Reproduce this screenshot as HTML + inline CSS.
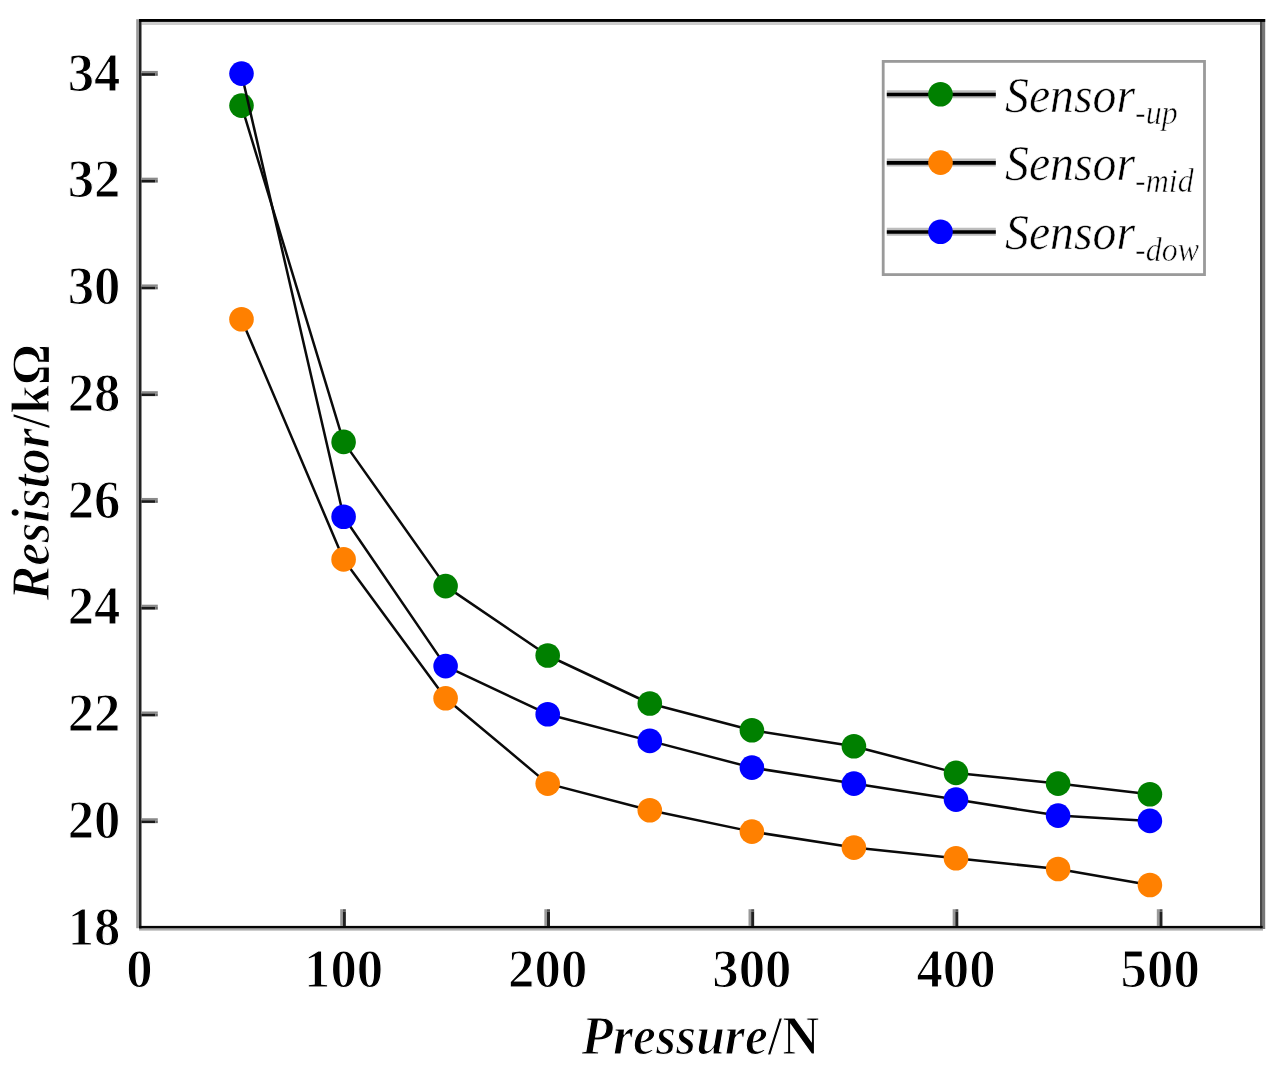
<!DOCTYPE html>
<html lang="en"><head><meta charset="utf-8"><title>Resistor vs Pressure</title>
<style>
html,body{margin:0;padding:0;background:#fff;}
body{width:1282px;height:1070px;overflow:hidden;}
svg{display:block;filter:blur(0.65px);}
text{font-family:"Liberation Serif","Times New Roman",serif;fill:#000;}
.tk{font-weight:bold;font-size:52.8px;stroke:#fff;stroke-width:1.1px;}
.ttl{font-weight:bold;font-size:51.6px;stroke:#fff;stroke-width:1.1px;}
.lg{font-style:italic;font-size:47.8px;stroke:#fff;stroke-width:0.55px;}
.sub{font-style:italic;font-size:32px;}
</style></head><body>
<svg width="1282" height="1070" viewBox="0 0 1282 1070">
<rect x="0" y="0" width="1282" height="1070" fill="#fff"/>
<polyline points="241.5,105.6 343.6,441.9 445.6,586.1 547.7,655.5 649.8,703.5 751.9,730.2 853.9,746.2 956.0,772.9 1058.1,783.6 1149.9,794.2" fill="none" stroke="#0a0a0a" stroke-width="2.5" stroke-linejoin="round"/>
<g fill="#008000">
<circle cx="241.5" cy="105.6" r="12.3"/>
<circle cx="343.6" cy="441.9" r="12.3"/>
<circle cx="445.6" cy="586.1" r="12.3"/>
<circle cx="547.7" cy="655.5" r="12.3"/>
<circle cx="649.8" cy="703.5" r="12.3"/>
<circle cx="751.9" cy="730.2" r="12.3"/>
<circle cx="853.9" cy="746.2" r="12.3"/>
<circle cx="956.0" cy="772.9" r="12.3"/>
<circle cx="1058.1" cy="783.6" r="12.3"/>
<circle cx="1149.9" cy="794.2" r="12.3"/>
</g>
<polyline points="241.5,319.2 343.6,559.4 445.6,698.2 547.7,783.6 649.8,810.3 751.9,831.6 853.9,847.6 956.0,858.3 1058.1,869.0 1149.9,885.0" fill="none" stroke="#0a0a0a" stroke-width="2.5" stroke-linejoin="round"/>
<g fill="#ff8000">
<circle cx="241.5" cy="319.2" r="12.3"/>
<circle cx="343.6" cy="559.4" r="12.3"/>
<circle cx="445.6" cy="698.2" r="12.3"/>
<circle cx="547.7" cy="783.6" r="12.3"/>
<circle cx="649.8" cy="810.3" r="12.3"/>
<circle cx="751.9" cy="831.6" r="12.3"/>
<circle cx="853.9" cy="847.6" r="12.3"/>
<circle cx="956.0" cy="858.3" r="12.3"/>
<circle cx="1058.1" cy="869.0" r="12.3"/>
<circle cx="1149.9" cy="885.0" r="12.3"/>
</g>
<polyline points="241.5,73.6 343.6,516.7 445.6,666.1 547.7,714.2 649.8,740.9 751.9,767.6 853.9,783.6 956.0,799.6 1058.1,815.6 1149.9,820.9" fill="none" stroke="#0a0a0a" stroke-width="2.5" stroke-linejoin="round"/>
<g fill="#0000ff">
<circle cx="241.5" cy="73.6" r="12.3"/>
<circle cx="343.6" cy="516.7" r="12.3"/>
<circle cx="445.6" cy="666.1" r="12.3"/>
<circle cx="547.7" cy="714.2" r="12.3"/>
<circle cx="649.8" cy="740.9" r="12.3"/>
<circle cx="751.9" cy="767.6" r="12.3"/>
<circle cx="853.9" cy="783.6" r="12.3"/>
<circle cx="956.0" cy="799.6" r="12.3"/>
<circle cx="1058.1" cy="815.6" r="12.3"/>
<circle cx="1149.9" cy="820.9" r="12.3"/>
</g>
<g shape-rendering="auto">
<rect x="141.50" y="21.90" width="1118.50" height="3.10" fill="#cdcdcd"/>
<rect x="139.00" y="928.20" width="1124.00" height="2.40" fill="#adadad"/>
<rect x="136.20" y="19.20" width="2.80" height="909.00" fill="#999"/>
<rect x="1262.70" y="19.00" width="2.50" height="910.00" fill="#787878"/>
<rect x="139.00" y="19.00" width="2.50" height="909.40" fill="#202020"/>
<rect x="1260.00" y="19.00" width="2.70" height="909.40" fill="#484848"/>
<rect x="139.00" y="19.00" width="1126.20" height="2.90" fill="#000"/>
<rect x="139.00" y="925.90" width="1123.70" height="2.40" fill="#050505"/>
<rect x="340.20" y="909.20" width="2.65" height="16.80" fill="#999"/>
<rect x="342.85" y="909.20" width="3.00" height="2.40" fill="#555"/>
<rect x="342.85" y="911.60" width="3.00" height="14.40" fill="#222"/>
<rect x="544.35" y="909.20" width="2.65" height="16.80" fill="#999"/>
<rect x="547.00" y="909.20" width="3.00" height="2.40" fill="#555"/>
<rect x="547.00" y="911.60" width="3.00" height="14.40" fill="#222"/>
<rect x="748.50" y="909.20" width="2.65" height="16.80" fill="#999"/>
<rect x="751.15" y="909.20" width="3.00" height="2.40" fill="#555"/>
<rect x="751.15" y="911.60" width="3.00" height="14.40" fill="#222"/>
<rect x="952.65" y="909.20" width="2.65" height="16.80" fill="#999"/>
<rect x="955.30" y="909.20" width="3.00" height="2.40" fill="#555"/>
<rect x="955.30" y="911.60" width="3.00" height="14.40" fill="#222"/>
<rect x="1156.80" y="909.20" width="2.65" height="16.80" fill="#999"/>
<rect x="1159.45" y="909.20" width="3.00" height="2.40" fill="#555"/>
<rect x="1159.45" y="911.60" width="3.00" height="14.40" fill="#222"/>
<rect x="141.40" y="818.24" width="16.40" height="2.20" fill="#8a8a8a"/>
<rect x="141.40" y="820.44" width="13.80" height="2.70" fill="#1a1a1a"/>
<rect x="155.20" y="820.44" width="2.60" height="2.70" fill="#6a6a6a"/>
<rect x="141.40" y="711.48" width="16.40" height="2.20" fill="#8a8a8a"/>
<rect x="141.40" y="713.68" width="13.80" height="2.70" fill="#1a1a1a"/>
<rect x="155.20" y="713.68" width="2.60" height="2.70" fill="#6a6a6a"/>
<rect x="141.40" y="604.72" width="16.40" height="2.20" fill="#8a8a8a"/>
<rect x="141.40" y="606.92" width="13.80" height="2.70" fill="#1a1a1a"/>
<rect x="155.20" y="606.92" width="2.60" height="2.70" fill="#6a6a6a"/>
<rect x="141.40" y="497.96" width="16.40" height="2.20" fill="#8a8a8a"/>
<rect x="141.40" y="500.16" width="13.80" height="2.70" fill="#1a1a1a"/>
<rect x="155.20" y="500.16" width="2.60" height="2.70" fill="#6a6a6a"/>
<rect x="141.40" y="391.20" width="16.40" height="2.20" fill="#8a8a8a"/>
<rect x="141.40" y="393.40" width="13.80" height="2.70" fill="#1a1a1a"/>
<rect x="155.20" y="393.40" width="2.60" height="2.70" fill="#6a6a6a"/>
<rect x="141.40" y="284.44" width="16.40" height="2.20" fill="#8a8a8a"/>
<rect x="141.40" y="286.64" width="13.80" height="2.70" fill="#1a1a1a"/>
<rect x="155.20" y="286.64" width="2.60" height="2.70" fill="#6a6a6a"/>
<rect x="141.40" y="177.68" width="16.40" height="2.20" fill="#8a8a8a"/>
<rect x="141.40" y="179.88" width="13.80" height="2.70" fill="#1a1a1a"/>
<rect x="155.20" y="179.88" width="2.60" height="2.70" fill="#6a6a6a"/>
<rect x="141.40" y="70.92" width="16.40" height="2.20" fill="#8a8a8a"/>
<rect x="141.40" y="73.12" width="13.80" height="2.70" fill="#1a1a1a"/>
<rect x="155.20" y="73.12" width="2.60" height="2.70" fill="#6a6a6a"/>
</g>
<g class="tk" text-anchor="middle" transform="scale(1,1.045)">
<text x="139.4" y="944.69">0</text>
<text x="343.6" y="944.69">100</text>
<text x="547.7" y="944.69">200</text>
<text x="751.9" y="944.69">300</text>
<text x="956.0" y="944.69">400</text>
<text x="1160.2" y="944.69">500</text>
</g>
<g class="tk" text-anchor="end" transform="scale(1,1.045)">
<text x="120.5" y="903.92">18</text>
<text x="120.5" y="801.76">20</text>
<text x="120.5" y="699.60">22</text>
<text x="120.5" y="597.44">24</text>
<text x="120.5" y="495.27">26</text>
<text x="120.5" y="393.11">28</text>
<text x="120.5" y="290.95">30</text>
<text x="120.5" y="188.78">32</text>
<text x="120.5" y="86.62">34</text>
</g>
<text class="ttl" x="700.5" y="1008.52" text-anchor="middle" transform="scale(1,1.045)"><tspan font-style="italic">Pressure</tspan>/N</text>
<text class="ttl" transform="translate(49.0,472) rotate(-90) scale(1,1.045)" text-anchor="middle"><tspan font-style="italic">Resistor</tspan>/kΩ</text>
<rect x="883.2" y="61.4" width="321.3" height="213.2" fill="#fff" stroke="#9a9a9a" stroke-width="2.8"/>
<line x1="886.8" y1="94.3" x2="995.8" y2="94.3" stroke="#bdbdbd" stroke-width="8"/>
<line x1="886.8" y1="94.5" x2="995.8" y2="94.5" stroke="#000" stroke-width="3.7"/>
<circle cx="940.5" cy="94.3" r="12.3" fill="#008000"/>
<text class="lg" x="1005" y="106.38" transform="scale(1,1.05)">Sensor<tspan class="sub" dy="11.4">-up</tspan></text>
<line x1="886.8" y1="162.6" x2="995.8" y2="162.6" stroke="#bdbdbd" stroke-width="8"/>
<line x1="886.8" y1="162.8" x2="995.8" y2="162.8" stroke="#000" stroke-width="3.7"/>
<circle cx="940.5" cy="162.6" r="12.3" fill="#ff8000"/>
<text class="lg" x="1005" y="171.43" transform="scale(1,1.05)">Sensor<tspan class="sub" dy="11.4">-mid</tspan></text>
<line x1="886.8" y1="231.8" x2="995.8" y2="231.8" stroke="#bdbdbd" stroke-width="8"/>
<line x1="886.8" y1="232.0" x2="995.8" y2="232.0" stroke="#000" stroke-width="3.7"/>
<circle cx="940.5" cy="231.8" r="12.3" fill="#0000ff"/>
<text class="lg" x="1005" y="237.33" transform="scale(1,1.05)">Sensor<tspan class="sub" dy="11.4">-dow</tspan></text>
</svg>
</body></html>
